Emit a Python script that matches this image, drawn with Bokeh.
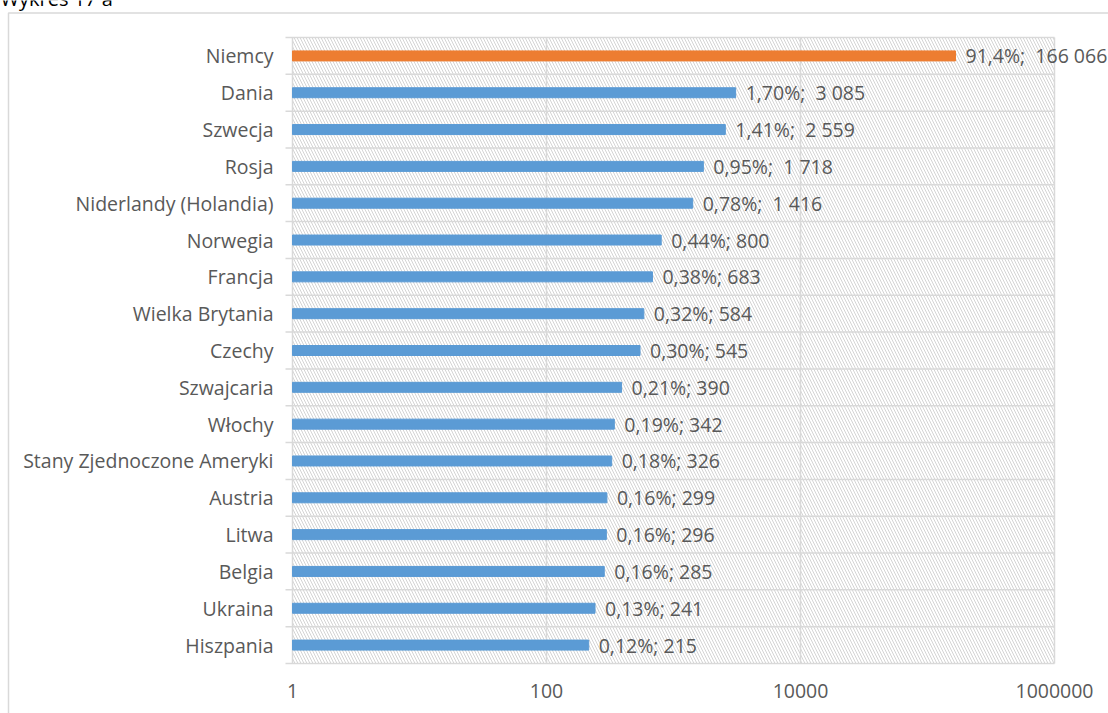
from bokeh.plotting import figure
from bokeh.models import Range1d, ColumnDataSource
from bokeh.embed import file_html
from bokeh.resources import INLINE
from bokeh.core.properties import value

# ---- data (top to bottom as in the chart) ----
countries = ["Niemcy", "Dania", "Szwecja", "Rosja", "Niderlandy (Holandia)", "Norwegia",
             "Francja", "Wielka Brytania", "Czechy", "Szwajcaria", "Włochy",
             "Stany Zjednoczone Ameryki", "Austria", "Litwa", "Belgia", "Ukraina", "Hiszpania"]
counts = [166066, 3085, 2559, 1718, 1416, 800, 683, 584, 545, 390, 342, 326, 299, 296, 285, 241, 215]
shares = ["91,4%", "1,70%", "1,41%", "0,95%", "0,78%", "0,44%", "0,38%", "0,32%", "0,30%",
          "0,21%", "0,19%", "0,18%", "0,16%", "0,16%", "0,16%", "0,13%", "0,12%"]
x_ticks = [1, 100, 10000, 1000000]
x_tick_labels = ["1", "100", "10000", "1000000"]
title_text = "Wykres 17 a"

# ---- style ----
ORANGE = "#ED7D31"
BLUE = "#5B9BD5"
GRID = "#D9D9D9"
HATCH = "#D4D4D4"
TXT = "#595959"
FONT = value("Open Sans")
FS = "19.5px"

# ---- layout (pixels of the page) ----
W, H = 1108, 713
OX, OY = 0, 0            # canvas origin on the page
X1 = 292                 # page x of value 1
DEC = 127.0              # pixels per decade
TOP, BOT = 37, 663       # page y of plot area top / bottom
n = len(countries)
ROW = (BOT - TOP) / n


def xv(px):
    return 10 ** ((px - X1) / DEC)


def yv(py):
    return (n - 0.5) - (py - TOP) / ROW


ypos = list(range(n - 1, -1, -1))  # Niemcy on top


def fmt(v):
    s = f"{v:,}".replace(",", " ")
    return ("\u00a0" + s) if v >= 1000 else s


labels = [f"{s}; {fmt(c)}" for s, c in zip(shares, counts)]
colors = [ORANGE if i == 0 else BLUE for i in range(n)]
src = ColumnDataSource(dict(y=ypos, v=counts, lab=labels, col=colors, country=countries))

p = figure(width=W, height=H, x_axis_type="log",
           x_range=Range1d(xv(OX), xv(OX + W)), y_range=Range1d(yv(OY + H), yv(OY)),
           output_backend="svg", toolbar_location=None,
           min_border=0, min_border_left=0, min_border_right=0,
           min_border_top=0, min_border_bottom=0)
p.axis.visible = False
p.grid.visible = False
p.outline_line_color = None
p.background_fill_color = "white"
p.border_fill_color = "white"

lo, hi = x_ticks[0], x_ticks[-1]

# outer chart border
p.quad(left=[xv(8)], right=[xv(W + 50)], top=[yv(12.5)], bottom=[yv(H + 50)],
       fill_color=None, line_color=GRID, line_width=1.5)

# hatched plot area
p.quad(left=[lo], right=[hi], bottom=[-0.5], top=[n - 0.5],
       fill_color=None, line_color=None,
       hatch_pattern="left_diagonal_line", hatch_color=HATCH,
       hatch_scale=6, hatch_weight=1)

# grid lines
bounds = [i - 0.5 for i in range(n + 1)]
p.segment(x0=[xv(X1 - 7)] * len(bounds), x1=[hi] * len(bounds), y0=bounds, y1=bounds,
          line_color=GRID, line_width=1.5)
p.segment(x0=x_ticks, x1=x_ticks, y0=[-0.5] * len(x_ticks), y1=[n - 0.5] * len(x_ticks),
          line_color=GRID, line_width=1.5)

# bars
p.hbar(y="y", left=lo, right="v", height=10 / ROW, color="col", source=src)

# data labels
p.text(x="v", y="y", text="lab", source=src, x_offset=10,
       text_baseline="middle", text_align="left",
       text_font=FONT, text_font_size=FS, text_color=TXT)

# category labels
p.text(x=lo, y="y", text="country", source=src, x_offset=-19,
       text_baseline="middle", text_align="right",
       text_font=FONT, text_font_size=FS, text_color=TXT)

# x tick labels
p.text(x=x_ticks, y=[-0.5] * len(x_ticks), text=x_tick_labels, y_offset=27,
       text_baseline="middle", text_align="center",
       text_font=FONT, text_font_size=FS, text_color=TXT)

# title (mostly above the visible page, as in the source)
p.text(x=[xv(0)], y=[yv(-2)], text=[title_text], text_baseline="alphabetic",
       text_align="left", text_font=FONT, text_font_size="20px", text_color="#000000")

open("out.html", "w").write(file_html(p, INLINE))
